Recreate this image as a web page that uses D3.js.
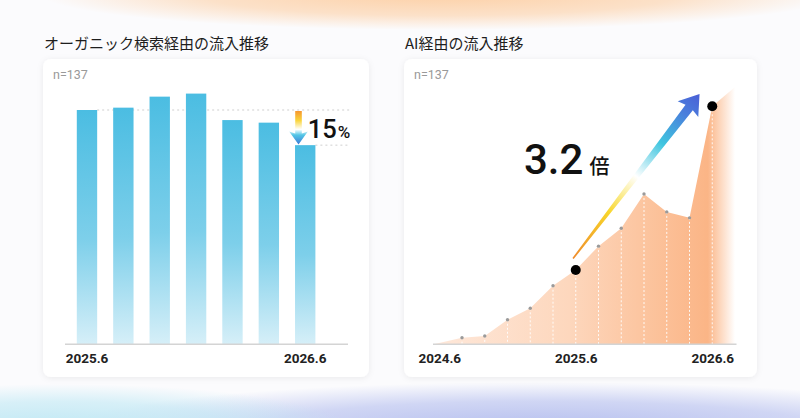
<!DOCTYPE html>
<html>
<head>
<meta charset="utf-8">
<script src="https://cdn.jsdelivr.net/npm/d3@7"></script>
<style>
html, body { margin: 0; padding: 0; background: #fbfbfd; }
svg { display: block; font-family: "Noto Sans CJK JP", "Noto Sans", sans-serif; }
</style>
</head>
<body>
<svg id="chart" width="800" height="418"></svg>
<script>
// Organic search traffic, index with 2025.6 = 100 (every 2 months)
const organicMonths = ["2025.6", "2025.8", "2025.10", "2025.12", "2026.2", "2026.4", "2026.6"];
const organicValues = [100, 101, 105.7, 107, 95.7, 94.6, 85];
const organicTicks = ["2025.6", "2026.6"];

// AI traffic, index with 2025.6 = 100, month offset from 2024.6
const aiMonthIndex = [2, 4, 6, 8, 10, 12, 14, 16, 18, 20, 22, 24];
const aiValues = [8.9, 11.2, 33, 48.4, 78.8, 100, 132, 156, 202, 178, 170, 320];
const aiAreaStart = [-0.5, 0];
const aiAreaEnd = [26, 346];
const aiTickIndex = [0, 12, 24];
const aiTickLabels = ["2024.6", "2025.6", "2026.6"];

const svg = d3.select("#chart");
const defs = svg.append("defs");

// ---- background glow ----
function glow(id, color, opacity) {
    const g = defs.append("radialGradient").attr("id", id);
    g.append("stop").attr("offset", "0%").attr("stop-color", color).attr("stop-opacity", opacity);
    g.append("stop").attr("offset", "60%").attr("stop-color", color).attr("stop-opacity", opacity * 0.6);
    g.append("stop").attr("offset", "100%").attr("stop-color", color).attr("stop-opacity", 0);
}
glow("glowTop", "#fdc590", 0.8);
glow("glowBlue", "#b3bdee", 1);
glow("glowCyan", "#bfe8f4", 1);
svg.append("ellipse").attr("cx", 440).attr("cy", -6).attr("rx", 400).attr("ry", 36).attr("fill", "url(#glowTop)");
svg.append("ellipse").attr("cx", 540).attr("cy", 430).attr("rx", 480).attr("ry", 48).attr("fill", "url(#glowBlue)");
svg.append("ellipse").attr("cx", 60).attr("cy", 428).attr("rx", 290).attr("ry", 44).attr("fill", "url(#glowCyan)");

const shadow = defs.append("filter").attr("id", "cardShadow").attr("x", "-10%").attr("y", "-10%").attr("width", "120%").attr("height", "120%");
shadow.append("feDropShadow").attr("dx", 0).attr("dy", 1).attr("stdDeviation", 3)
    .attr("flood-color", "#000").attr("flood-opacity", 0.07);

// arrow polygon along tail -> tip
function arrowPath(tail, tip, tailHalf, shaftHalf, headLen, headHalf) {
    const dx = tip[0] - tail[0], dy = tip[1] - tail[1], L = Math.hypot(dx, dy);
    const ux = dx / L, uy = dy / L, nx = -uy, ny = ux;
    const bx = tip[0] - ux * headLen, by = tip[1] - uy * headLen;
    const pts = [
        [tail[0] + nx * tailHalf, tail[1] + ny * tailHalf],
        [bx + nx * shaftHalf, by + ny * shaftHalf],
        [bx + nx * headHalf - ux * 2, by + ny * headHalf - uy * 2],
        tip,
        [bx - nx * headHalf - ux * 2, by - ny * headHalf - uy * 2],
        [bx - nx * shaftHalf, by - ny * shaftHalf],
        [tail[0] - nx * tailHalf, tail[1] - ny * tailHalf]
    ];
    return d3.line()(pts) + "Z";
}

function arrowGradient(id, tail, tip, stops) {
    const g = defs.append("linearGradient").attr("id", id).attr("gradientUnits", "userSpaceOnUse")
        .attr("x1", tail[0]).attr("y1", tail[1]).attr("x2", tip[0]).attr("y2", tip[1]);
    stops.forEach(s => g.append("stop").attr("offset", s[0]).attr("stop-color", s[1]));
}

function card(x, y, w, h, title) {
    svg.append("text").attr("x", x + 1).attr("y", y - 10.5)
        .attr("font-size", 15).attr("font-weight", 400).attr("fill", "#1e1e1e").text(title);
    svg.append("rect").attr("x", x).attr("y", y).attr("width", w).attr("height", h)
        .attr("rx", 8).attr("fill", "#fff").attr("filter", "url(#cardShadow)");
    svg.append("text").attr("x", x + 10).attr("y", y + 20)
        .attr("font-family", "Roboto, sans-serif")
        .attr("font-size", 12.5).attr("fill", "#999").text("n=137");
}

const baseY = 344.3;

// ================= Left: organic =================
card(43, 59, 326, 318, "オーガニック検索経由の流入推移");

const xL = d3.scaleBand().domain(organicMonths).range([68.8, 323.4]).paddingInner(0.44).paddingOuter(0.22);
const yL = d3.scaleLinear().domain([0, 100]).range([baseY, 110]);

const barGrad = defs.append("linearGradient").attr("id", "barGrad").attr("x1", 0).attr("y1", 0).attr("x2", 0).attr("y2", 1);
barGrad.append("stop").attr("offset", "0%").attr("stop-color", "#4bbde2");
barGrad.append("stop").attr("offset", "55%").attr("stop-color", "#7dcfea");
barGrad.append("stop").attr("offset", "100%").attr("stop-color", "#d6eff8");

const gL = svg.append("g");
const firstTop = yL(organicValues[0]);
const lastTop = yL(organicValues[organicValues.length - 1]);
const lastName = organicMonths[organicMonths.length - 1];

// reference dashed lines
gL.append("line").attr("x1", xL(organicMonths[0]) + xL.bandwidth()).attr("x2", 350)
    .attr("y1", firstTop).attr("y2", firstTop)
    .attr("stroke", "#cfcfcf").attr("stroke-width", 1).attr("stroke-dasharray", "2,3");
gL.append("line").attr("x1", xL(lastName) + xL.bandwidth()).attr("x2", 350)
    .attr("y1", lastTop).attr("y2", lastTop)
    .attr("stroke", "#cfcfcf").attr("stroke-width", 1).attr("stroke-dasharray", "2,3");

gL.selectAll(".bar").data(organicValues).join("rect")
    .attr("class", "bar")
    .attr("x", (d, i) => xL(organicMonths[i]))
    .attr("y", d => yL(d))
    .attr("width", xL.bandwidth())
    .attr("height", d => baseY - yL(d))
    .attr("fill", "url(#barGrad)");

gL.append("line").attr("x1", 65).attr("x2", 348).attr("y1", baseY).attr("y2", baseY)
    .attr("stroke", "#d4d4d4").attr("stroke-width", 1.5);

const axisL = gL.append("g").attr("transform", `translate(0,${baseY})`)
    .call(d3.axisBottom(xL).tickValues(organicTicks).tickSize(0).tickPadding(9.5));
axisL.select(".domain").remove();
axisL.selectAll("text").attr("font-family", "Roboto, sans-serif").attr("font-size", 13.5)
    .attr("font-weight", 700).attr("fill", "#222");

// down arrow
const dnX = xL(lastName) + xL.bandwidth() / 2 - 6.7;
const dnTail = [dnX, firstTop + 1];
const dnTip = [dnX, lastTop - 0.7];
arrowGradient("downGrad", dnTail, dnTip, [
    [0, "#f6962f"], [0.28, "#f9d43a"], [0.55, "#ffffff"], [0.72, "#52c6e6"], [1, "#3a78d6"]
]);
gL.append("path").attr("d", arrowPath(dnTail, dnTip, 3.3, 3.3, 11, 9.3)).attr("fill", "url(#downGrad)");

gL.append("text").attr("x", xL(lastName) + xL.bandwidth() / 2 + 2.5).attr("y", (firstTop + lastTop) / 2 + 10.5)
    .attr("font-family", "Roboto, sans-serif")
    .attr("font-size", 25.5).attr("font-weight", 500).attr("fill", "#111")
    .text("15")
    .append("tspan").attr("font-size", 17).attr("dx", 1).text("%");

// ================= Right: AI =================
card(404, 59, 353, 318, "AI経由の流入推移");

const xR = d3.scaleLinear().domain([-0.55, 26]).range([433, 735]);
const yR = d3.scaleLinear().domain([0, 320]).range([baseY, 106.3]);

const areaGrad = defs.append("linearGradient").attr("id", "areaGrad").attr("gradientUnits", "userSpaceOnUse")
    .attr("x1", xR.range()[0]).attr("x2", xR.range()[1]).attr("y1", 0).attr("y2", 0);
areaGrad.append("stop").attr("offset", "0%").attr("stop-color", "#fee8da");
areaGrad.append("stop").attr("offset", "45%").attr("stop-color", "#fdd7bd");
areaGrad.append("stop").attr("offset", "91%").attr("stop-color", "#fbb586");
areaGrad.append("stop").attr("offset", "100%").attr("stop-color", "#ffffff");

const gR = svg.append("g");
const areaPts = [aiAreaStart].concat(aiMonthIndex.map((m, i) => [m, aiValues[i]]), [aiAreaEnd]);
gR.append("path").datum(areaPts)
    .attr("d", d3.area().x(d => xR(d[0])).y0(baseY).y1(d => yR(d[1])))
    .attr("fill", "url(#areaGrad)");

gR.selectAll(".drop").data(aiValues).join("line")
    .attr("class", "drop")
    .attr("x1", (d, i) => xR(aiMonthIndex[i])).attr("x2", (d, i) => xR(aiMonthIndex[i]))
    .attr("y1", d => yR(d)).attr("y2", baseY)
    .attr("stroke", "#fff").attr("stroke-width", 1).attr("stroke-dasharray", "2,2").attr("opacity", 0.9);

gR.selectAll(".pt").data(aiValues).join("circle")
    .attr("class", "pt")
    .attr("cx", (d, i) => xR(aiMonthIndex[i])).attr("cy", d => yR(d))
    .attr("r", 1.7).attr("fill", "#9a9a9a");

gR.append("line").attr("x1", xR.range()[0]).attr("x2", 736.5).attr("y1", baseY).attr("y2", baseY)
    .attr("stroke", "#d4d4d4").attr("stroke-width", 1.5);

const axisR = gR.append("g").attr("transform", `translate(0,${baseY})`)
    .call(d3.axisBottom(xR).tickValues(aiTickIndex).tickFormat((d, i) => aiTickLabels[i]).tickSize(0).tickPadding(9.5));
axisR.select(".domain").remove();
axisR.selectAll("text").attr("font-family", "Roboto, sans-serif").attr("font-size", 13.5)
    .attr("font-weight", 700).attr("fill", "#222");

// highlighted points: 2025.6 and 2026.6
const midI = aiMonthIndex.indexOf(12), endI = aiMonthIndex.indexOf(24);
const p0 = [xR(aiMonthIndex[midI]), yR(aiValues[midI])];
const p1 = [xR(aiMonthIndex[endI]), yR(aiValues[endI])];

const upTail = [p0[0] - 2.7, p0[1] - 11.4];
const upTip = [p1[0] - 12.7, p1[1] - 12.3];
arrowGradient("upGrad", upTail, upTip, [
    [0, "#ee8a2c"], [0.28, "#f8d52a"], [0.38, "#fbeb8a"], [0.5, "#ffffff"], [0.7, "#3fc5df"], [0.88, "#4a7fdc"], [1, "#4a5fd6"]
]);
gR.append("path").attr("d", arrowPath(upTail, upTip, 0.8, 4.6, 17, 13)).attr("fill", "url(#upGrad)");

gR.selectAll(".hl").data([p0, p1]).join("circle")
    .attr("class", "hl").attr("cx", d => d[0]).attr("cy", d => d[1]).attr("r", 5).attr("fill", "#000");

gR.append("text").attr("x", 524).attr("y", 173.5)
    .attr("font-family", "Roboto, sans-serif")
    .attr("font-size", 42).attr("font-weight", 500).attr("fill", "#111")
    .text((aiValues[endI] / aiValues[midI]).toFixed(1))
    .append("tspan").attr("font-family", "Noto Sans CJK JP, sans-serif")
    .attr("font-size", 20).attr("dx", 6).text("倍");
</script>
</body>
</html>
